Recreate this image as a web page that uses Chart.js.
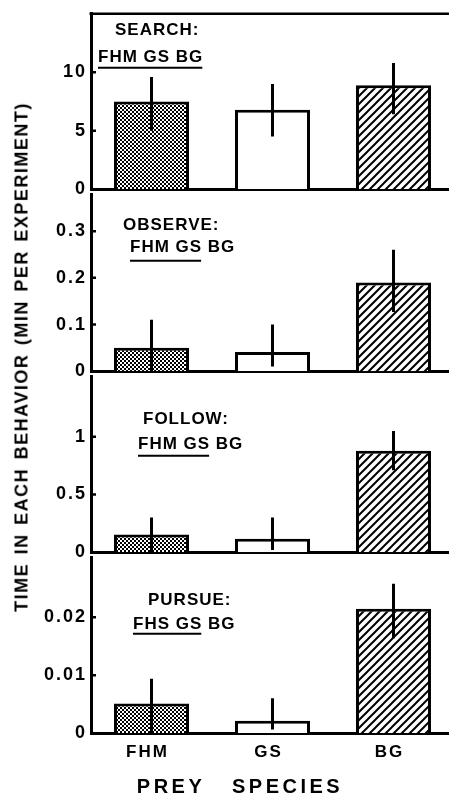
<!DOCTYPE html>
<html>
<head>
<meta charset="utf-8">
<script src="https://cdn.jsdelivr.net/npm/chart.js@4.4.1/dist/chart.umd.min.js"></script>
<style>
html, body { margin: 0; padding: 0; background: #fff; overflow: hidden; width: 449px; height: 794px; }
canvas { position: absolute; left: 0; }
#ytitle {
    position: absolute; left: 22px; top: 357px;
    transform: translate(-50%, -50%) rotate(-90deg);
    white-space: nowrap;
    font: bold 18px "Liberation Sans", Arial, sans-serif;
    letter-spacing: 1.5px; word-spacing: 2px;
}
#xtitle {
    position: absolute; left: 240px; top: 786px;
    transform: translate(-50%, -50%);
    white-space: nowrap;
    font: bold 20px "Liberation Sans", Arial, sans-serif;
    letter-spacing: 3.5px; word-spacing: 18px;
}
</style>
</head>
<body>
<canvas id="searchChart"></canvas>
<canvas id="observeChart"></canvas>
<canvas id="followChart"></canvas>
<canvas id="pursueChart"></canvas>
<div id="ytitle">TIME IN EACH BEHAVIOR (MIN PER EXPERIMENT)</div>
<div id="xtitle">PREY SPECIES</div>
<script>
const species = ['FHM', 'GS', 'BG']
const behaviors = ['SEARCH:', 'OBSERVE:', 'FOLLOW:', 'PURSUE:']
const groupLines = ['FHM GS BG', 'FHM GS BG', 'FHM GS BG', 'FHS GS BG']
const underlinedWords = [3, 2, 2, 2]

const searchMean = [7.5, 6.8, 8.9]
const searchHigh = [9.6, 9.0, 10.8]
const searchLow = [5.0, 4.5, 6.4]
const searchTicks = [0, 5, 10]
const searchTickLabels = ['0', '5', '10']

const observeMean = [0.05, 0.041, 0.19]
const observeHigh = [0.11, 0.10, 0.26]
const observeLow = [0, 0.01, 0.127]
const observeTicks = [0, 0.1, 0.2, 0.3]
const observeTickLabels = ['0', '0.1', '0.2', '0.3']

const followMean = [0.153, 0.117, 0.88]
const followHigh = [0.30, 0.30, 1.05]
const followLow = [0, 0.02, 0.71]
const followTicks = [0, 0.5, 1]
const followTickLabels = ['0', '0.5', '1']

const pursueMean = [0.0051, 0.0021, 0.0215]
const pursueHigh = [0.0094, 0.006, 0.0258]
const pursueLow = [0, 0.0006, 0.0164]
const pursueTicks = [0, 0.01, 0.02]
const pursueTickLabels = ['0', '0.01', '0.02']

// page layout of each panel (chart area top/bottom in px, axis max, note offsets)
const FONT = '"Liberation Sans", Arial, sans-serif'
const PAD = 12
const panels = [
    { top: 11, bottom: 192, max: 15, noteX: [115, 98], noteY: [17, 44, 54], topBorder: true },
    { top: 192, bottom: 374, max: 0.378, noteX: [123, 130], noteY: [31, 53, 66] },
    { top: 374, bottom: 555, max: 1.52, noteX: [143, 138], noteY: [43, 68, 79] },
    { top: 555, bottom: 733, max: 0.0303, noteX: [148, 133], noteY: [43, 67, 76] }
]

function makePattern(kind) {
    const c = document.createElement('canvas')
    const p = c.getContext('2d')
    if (kind === 'dots') {
        c.width = c.height = 4
        p.fillStyle = '#fff'
        p.fillRect(0, 0, 4, 4)
        p.fillStyle = '#000'
        p.fillRect(0, 0, 2, 2)
        p.fillRect(2, 2, 2, 2)
    } else {
        c.width = c.height = 8
        p.fillStyle = '#fff'
        p.fillRect(0, 0, 8, 8)
        p.strokeStyle = '#000'
        p.lineWidth = 2
        p.beginPath()
        p.moveTo(-2, 10); p.lineTo(10, -2)
        p.moveTo(-2, 2); p.lineTo(2, -2)
        p.moveTo(6, 10); p.lineTo(10, 6)
        p.stroke()
    }
    return p.createPattern(c, 'repeat')
}

const fills = [makePattern('dots'), '#fff', makePattern('hatch')]

function decorPlugin(index) {
    const panel = panels[index]
    return {
        id: 'decor',
        beforeUpdate(chart) {
            chart.ctx.letterSpacing = '2px'
        },
        afterDraw(chart) {
            const { ctx, chartArea, scales } = chart
            const y = scales.y
            const ds = chart.data.datasets[0]
            const meta = chart.getDatasetMeta(0)
            ctx.save()
            ctx.strokeStyle = '#000'
            ctx.lineWidth = 3
            ctx.beginPath()
            ctx.rect(chartArea.left, chartArea.top - 2, chartArea.right - chartArea.left, chartArea.bottom - chartArea.top + 2)
            ctx.clip()
            ctx.beginPath()
            meta.data.forEach((bar, i) => {
                ctx.moveTo(bar.x, y.getPixelForValue(ds.errHigh[i]))
                ctx.lineTo(bar.x, y.getPixelForValue(ds.errLow[i]))
            })
            ctx.stroke()
            ctx.restore()

            ctx.save()
            ctx.strokeStyle = '#000'
            ctx.lineWidth = 2.5
            ctx.beginPath()
            y.ticks.forEach(t => {
                if (t.value === 0) return
                const py = y.getPixelForValue(t.value)
                ctx.moveTo(chartArea.left, py)
                ctx.lineTo(chartArea.left + 5, py)
            })
            if (panel.topBorder) {
                ctx.moveTo(chartArea.left - 1.5, chartArea.top)
                ctx.lineTo(chartArea.right, chartArea.top)
            }
            ctx.stroke()

            ctx.fillStyle = '#000'
            ctx.font = 'bold 17px ' + FONT
            ctx.letterSpacing = '1px'
            ctx.textBaseline = 'middle'
            ctx.textAlign = 'left'
            ctx.fillText(behaviors[index], panel.noteX[0], chartArea.top + panel.noteY[0])
            ctx.fillText(groupLines[index], panel.noteX[1], chartArea.top + panel.noteY[1])
            const words = groupLines[index].split(' ').slice(0, underlinedWords[index]).join(' ')
            const w = ctx.measureText(words).width - 1
            ctx.lineWidth = 2
            ctx.beginPath()
            ctx.moveTo(panel.noteX[1], chartArea.top + panel.noteY[2])
            ctx.lineTo(panel.noteX[1] + w, chartArea.top + panel.noteY[2])
            ctx.stroke()
            ctx.restore()
        }
    }
}

function createPanel(canvasId, index, mean, high, low, tickValues, tickLabels) {
    const panel = panels[index]
    const showSpecies = index === panels.length - 1
    const xHeight = showSpecies ? 40 : 0
    const canvas = document.getElementById(canvasId)
    canvas.width = 454
    canvas.height = PAD + (panel.bottom - panel.top) + (showSpecies ? xHeight : PAD)
    canvas.style.top = (panel.top - PAD) + 'px'

    const newChart = new Chart(canvas, {
        type: 'bar',
        data: {
            labels: species,
            datasets: [{
                data: mean,
                errHigh: high,
                errLow: low,
                backgroundColor: fills,
                borderColor: '#000',
                borderWidth: 3,
                barPercentage: 0.62,
                categoryPercentage: 1
            }]
        },
        options: {
            responsive: false,
            animation: false,
            events: [],
            layout: { padding: { top: PAD, bottom: showSpecies ? 0 : PAD, left: 0, right: 0 } },
            plugins: { legend: { display: false }, tooltip: { enabled: false } },
            scales: {
                x: {
                    z: 1,
                    grid: { display: false, drawTicks: false },
                    border: { display: true, color: '#000', width: 3 },
                    ticks: {
                        display: showSpecies, color: '#000', padding: 9, labelOffset: -4,
                        font: { family: FONT, size: 17, weight: 'bold' }
                    },
                    afterFit: s => { s.height = xHeight }
                },
                y: {
                    z: 1,
                    min: 0,
                    max: panel.max,
                    grid: { display: false, drawTicks: false },
                    border: { display: true, color: '#000', width: 3 },
                    afterBuildTicks: s => { s.ticks = tickValues.map(v => ({ value: v })) },
                    ticks: {
                        color: '#000', padding: 4,
                        font: { family: FONT, size: 18, weight: 'bold' },
                        callback: (v, i) => tickLabels[i]
                    },
                    afterFit: s => { s.width = 91 }
                }
            }
        },
        plugins: [decorPlugin(index)]
    })

    return newChart
}

const searchChart = createPanel('searchChart', 0, searchMean, searchHigh, searchLow, searchTicks, searchTickLabels)
const observeChart = createPanel('observeChart', 1, observeMean, observeHigh, observeLow, observeTicks, observeTickLabels)
const followChart = createPanel('followChart', 2, followMean, followHigh, followLow, followTicks, followTickLabels)
const pursueChart = createPanel('pursueChart', 3, pursueMean, pursueHigh, pursueLow, pursueTicks, pursueTickLabels)
</script>
</body>
</html>
